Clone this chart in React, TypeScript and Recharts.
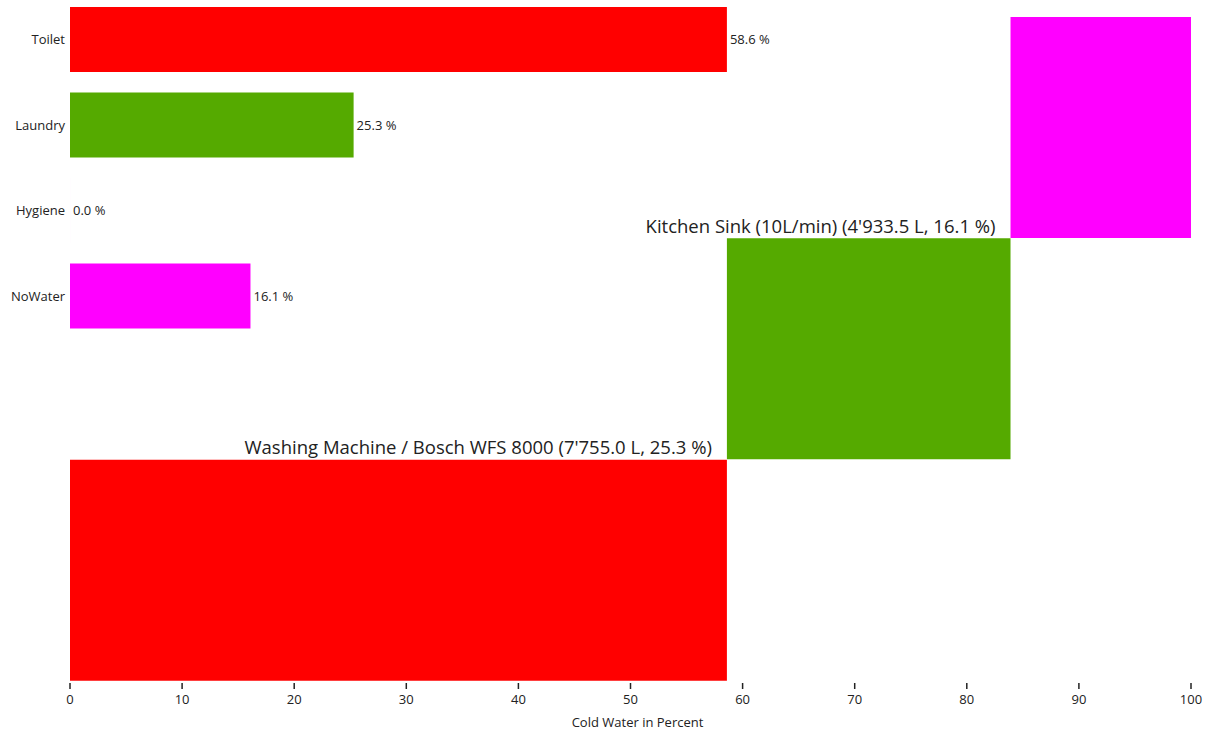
import React from 'react';
import { BarChart, Bar, XAxis, YAxis, Cell, LabelList } from 'recharts';

const categories = ['Toilet', 'Laundry', 'Hygiene', 'NoWater'];
const shares = [58.6, 25.3, 0.0, 16.1];
const colors = ['#FF0000', '#55AA00', '#FF00FF', '#FF00FF'];

// staircase blocks, top row first
const blockNames = ['Kitchen Sink', 'Washing Machine', 'Toilet'];
const blockStart = [83.9, 58.6, 0];
const blockValue = [16.1, 25.3, 58.6];
const blockColors = ['#FF00FF', '#55AA00', '#FF0000'];
const blockLabels = [
  "Kitchen Sink (10L/min) (4'933.5 L, 16.1 %)",
  "Washing Machine / Bosch WFS 8000 (7'755.0 L, 25.3 %)",
  '',
];

const xTicks = [0, 10, 20, 30, 40, 50, 60, 70, 80, 90, 100];

const font = '"Segoe UI", "Open Sans", "Noto Sans", sans-serif';

const barData = categories.map((name, i) => ({ name, value: shares[i] }));
const blockData = blockNames.map((name, i) => ({
  name,
  start: blockStart[i],
  value: blockValue[i],
  label: blockLabels[i],
}));

const BlockLabel = (props: any) => {
  const { x, y, height, value } = props;
  if (!value) return null;
  return (
    <text x={x - 15} y={y + height - 5} textAnchor="end" fontSize={18.5} fill="#222" fontFamily={font}>
      {value}
    </text>
  );
};

const ValueLabel = (props: any) => {
  const { x, y, width, height, value } = props;
  return (
    <text x={x + (width || 0) + 3} y={y + height / 2} dy="0.355em" fontSize={13} fill="#222" fontFamily={font}>
      {`${Number(value).toFixed(1)} %`}
    </text>
  );
};

export default function App() {
  return (
    <div style={{ position: 'absolute', left: 0, top: 0, width: 1212, height: 735, background: '#fff', fontFamily: font }}>
      {/* staircase + x axis */}
      <div style={{ position: 'absolute', left: 0, top: 0 }}>
        <BarChart
          width={1212}
          height={735}
          data={blockData}
          layout="vertical"
          barCategoryGap={0}
          margin={{ top: 17, right: 21, left: 70, bottom: 0 }}
        >
          <XAxis
            type="number"
            domain={[0, 100]}
            ticks={xTicks}
            axisLine={false}
            tickSize={6}
            tickMargin={8}
            height={54}
            tick={{ fontSize: 13, fill: '#222', fontFamily: font }}
            tickLine={{ stroke: '#222', strokeWidth: 1.5, transform: 'translate(0, 2)' }}
            label={{ value: 'Cold Water in Percent', position: 'insideBottom', offset: 8, dx: 7, fontSize: 13, fill: '#222', fontFamily: font }}
          />
          <YAxis type="category" dataKey="name" hide />
          <Bar dataKey="start" stackId="a" fill="transparent" isAnimationActive={false} />
          <Bar dataKey="value" stackId="a" isAnimationActive={false}>
            {blockData.map((d, i) => (
              <Cell key={d.name} fill={blockColors[i]} />
            ))}
            <LabelList dataKey="label" content={BlockLabel} />
          </Bar>
        </BarChart>
      </div>
      {/* category bars */}
      <div style={{ position: 'absolute', left: 0, top: -3 }}>
        <BarChart
          width={1212}
          height={342}
          data={barData}
          layout="vertical"
          barSize={65}
          margin={{ top: 0, right: 21, left: 0, bottom: 0 }}
        >
          <XAxis type="number" domain={[0, 100]} hide />
          <YAxis
            type="category"
            dataKey="name"
            width={70}
            axisLine={false}
            tickLine={false}
            tickSize={0}
            tickMargin={5}
            tick={{ fontSize: 13, fill: '#222', fontFamily: font }}
          />
          <Bar dataKey="value" minPointSize={0.01} isAnimationActive={false}>
            {barData.map((d, i) => (
              <Cell key={d.name} fill={colors[i]} />
            ))}
            <LabelList dataKey="value" content={ValueLabel} />
          </Bar>
        </BarChart>
      </div>
    </div>
  );
}
